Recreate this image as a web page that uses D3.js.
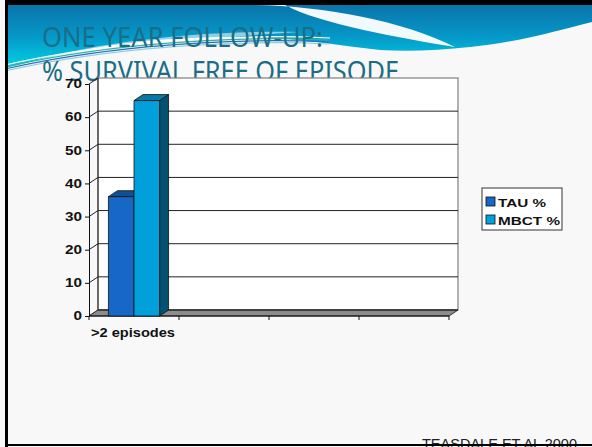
<!DOCTYPE html>
<html><head><meta charset="utf-8">
<script src="https://cdn.jsdelivr.net/npm/d3@7"></script>
<style>html,body{margin:0;padding:0;background:#f8f8f8;overflow:hidden}</style>
</head><body>
<script>
const categories = [">2 episodes", "", "", ""];
const seriesNames = ["TAU %", "MBCT %"];
const tauValues = [36, 0, 0, 0];
const mbctValues = [65, 0, 0, 0];
const yTicks = [0, 10, 20, 30, 40, 50, 60, 70];
const titleLines = ["ONE YEAR FOLLOW-UP:", "% SURVIVAL FREE OF EPISODE"];
const footer = "TEASDALE ET AL 2000";

const W = 592, H = 447;
const svg = d3.select("body").append("svg").attr("width", W).attr("height", H);
const defs = svg.append("defs");
const g1 = defs.append("linearGradient").attr("id","hdr").attr("x1",0).attr("y1",0).attr("x2",0).attr("y2",1);
g1.append("stop").attr("offset","0%").attr("stop-color","#0a74aa");
g1.append("stop").attr("offset","50%").attr("stop-color","#0598c8");
g1.append("stop").attr("offset","100%").attr("stop-color","#00d2e4");

svg.append("rect").attr("width",W).attr("height",H).attr("fill","#f8f8f8");

// header decoration
svg.append("path").attr("fill","url(#hdr)")
  .attr("d","M5,5 H592 V22 C560,30 520,42 470,47 C440,50 410,52 380,50 C340,46 300,38 250,37 C180,36 130,42 100,47 C60,54 30,62 5,68 Z");
svg.append("path").attr("fill","#ffffff").attr("opacity",0.95)
  .attr("d","M245,5 C320,5 400,20 455,47 C400,38 320,24 285,5 Z");
svg.append("path").attr("fill","#ffffff").attr("opacity",0.55)
  .attr("d","M30,62 C90,44 190,30 300,32 C200,38 110,48 30,62 Z");
[["#2fb59a",0],["#2a6fc4",2],["#ffffff",-2],["#8fd0e0",4]].forEach(([c,o])=>{
  svg.append("path").attr("fill","none").attr("stroke",c).attr("stroke-width",1.2)
    .attr("d",`M5,${67+o} C80,${50+o} 200,${34+o} 330,${40+o}`);
});

// title
const tl = svg.append("g").attr("fill","#1b6d86").style("font-family","'Noto Sans', sans-serif").style("font-size","28px");
tl.append("text").attr("x",42).attr("y",47).attr("textLength",281).attr("lengthAdjust","spacingAndGlyphs").text(titleLines[0]);
tl.append("text").attr("x",42).attr("y",81).attr("textLength",357).attr("lengthAdjust","spacingAndGlyphs").text(titleLines[1]);

// chart geometry
const dx = 9, dy = -6;
const y = d3.scaleLinear().domain([0,70]).range([316,84]);
const x0 = d3.scaleBand().domain(d3.range(categories.length)).range([89,449]).paddingInner(0).paddingOuter(0);
const x1 = d3.scaleBand().domain(seriesNames).range([0,x0.bandwidth()]).paddingInner(0).paddingOuter(0.76);
const xL = 89, xR = 449;

// back wall
svg.append("rect").attr("x",xL+dx).attr("y",y(70)+dy).attr("width",xR-xL).attr("height",y(0)-y(70))
  .attr("fill","#ffffff").attr("stroke","#808080").attr("stroke-width",1.2);
// gridlines
const grid = svg.append("g");
yTicks.forEach(v=>{
  if (v>0 && v<70) grid.append("line").attr("x1",xL+dx).attr("x2",xR+dx).attr("y1",y(v)+dy).attr("y2",y(v)+dy)
    .attr("stroke","#222").attr("stroke-width",1);
  grid.append("line").attr("x1",xL).attr("y1",y(v)).attr("x2",xL+dx).attr("y2",y(v)+dy).attr("stroke","#222").attr("stroke-width",1);
});
svg.append("line").attr("x1",xL+dx).attr("x2",xL+dx).attr("y1",y(70)+dy).attr("y2",y(0)+dy).attr("stroke","#222");

// floor
svg.append("path").attr("fill","#8c8c8c").attr("stroke","#333").attr("stroke-width",1)
  .attr("d",`M${xL},${y(0)} L${xR},${y(0)} L${xR+dx},${y(0)+dy} L${xL+dx},${y(0)+dy} Z`);
svg.append("line").attr("x1",xL+dx).attr("x2",xR+dx).attr("y1",y(0)+dy).attr("y2",y(0)+dy).attr("stroke","#333").attr("stroke-width",1.6);

// y axis
const yAxis = d3.axisLeft(y).tickValues(yTicks).tickSize(4).tickPadding(3);
const ya = svg.append("g").attr("transform",`translate(${xL},0)`).call(yAxis);
ya.select(".domain").attr("stroke","#111");
ya.selectAll(".tick line").attr("stroke","#111");
ya.selectAll(".tick text").attr("fill","#111").style("font-family","Arial, 'Liberation Sans', sans-serif")
  .style("font-weight","bold").style("font-size","12px")
  .attr("textLength",17).attr("lengthAdjust","spacingAndGlyphs");
ya.selectAll(".tick text").filter(d=>d===0).attr("textLength",8.5);

// x axis
const xa = svg.append("g").attr("transform",`translate(0,${y(0)})`);
xa.append("line").attr("x1",xL).attr("x2",xR).attr("stroke","#111");
d3.range(categories.length+1).forEach(i=>{
  const xx = i<categories.length ? x0(i) : xR;
  xa.append("line").attr("x1",xx).attr("x2",xx).attr("y1",0).attr("y2",4).attr("stroke","#111");
});
xa.selectAll("text.cat").data(categories).join("text").attr("class","cat")
  .attr("x",(d,i)=>x0(i)+x0.bandwidth()/2-1).attr("y",21).attr("text-anchor","middle")
  .attr("fill","#111").style("font-family","Arial, 'Liberation Sans', sans-serif").style("font-weight","bold").style("font-size","12.5px")
  .each(function(d){ if(d) d3.select(this).attr("textLength",84).attr("lengthAdjust","spacingAndGlyphs"); })
  .text(d=>d);

// bars
const colors = {
  "TAU %": {front:"#1767c6", top:"#0f4f98", side:"#0c3f7a"},
  "MBCT %": {front:"#02a0da", top:"#0679a6", side:"#045170"}
};
const seriesData = [{name:"TAU %", values:tauValues},{name:"MBCT %", values:mbctValues}];
const bars = svg.append("g");
seriesData.forEach(s=>{
  s.values.forEach((v,i)=>{
    if (!v) return;
    const bx = x0(i)+x1(s.name), bw = x1.bandwidth(), top = y(v), bot = y(0);
    const c = colors[s.name];
    const gb = bars.append("g").attr("stroke","#111").attr("stroke-width",0.8).attr("stroke-linejoin","round");
    gb.append("path").attr("fill",c.side).attr("d",`M${bx+bw},${top} L${bx+bw+dx},${top+dy} L${bx+bw+dx},${bot+dy} L${bx+bw},${bot} Z`);
    gb.append("path").attr("fill",c.top).attr("d",`M${bx},${top} L${bx+dx},${top+dy} L${bx+bw+dx},${top+dy} L${bx+bw},${top} Z`);
    gb.append("rect").attr("x",bx).attr("y",top).attr("width",bw).attr("height",bot-top).attr("fill",c.front);
  });
});

// legend
const lg = svg.append("g");
lg.append("rect").attr("x",482).attr("y",188).attr("width",80).attr("height",42).attr("fill","#fff").attr("stroke","#333");
seriesNames.forEach((n,i)=>{
  lg.append("rect").attr("x",486).attr("y",197+i*18).attr("width",9).attr("height",9).attr("fill",colors[n].front).attr("stroke","#111").attr("stroke-width",0.8);
  lg.append("text").attr("x",498).attr("y",206.5+i*18).attr("fill","#111")
    .style("font-family","Arial, 'Liberation Sans', sans-serif").style("font-weight","bold").style("font-size","11.5px")
    .attr("textLength",i===0?48:62).attr("lengthAdjust","spacingAndGlyphs").text(n);
});

// footer
svg.append("text").attr("x",422).attr("y",449).attr("fill","#222")
  .style("font-family","Arial, 'Liberation Sans', sans-serif").style("font-size","14px")
  .attr("textLength",155).attr("lengthAdjust","spacingAndGlyphs").text(footer);

// frame
svg.append("rect").attr("x",0).attr("y",0).attr("width",W).attr("height",5).attr("fill","#000");
svg.append("rect").attr("x",0).attr("y",0).attr("width",5).attr("height",H).attr("fill","#f8f8f8");
svg.append("rect").attr("x",5).attr("y",0).attr("width",3).attr("height",H).attr("fill","#000");
svg.append("rect").attr("x",5).attr("y",444).attr("width",W-5).attr("height",2).attr("fill","#000");
</script>
</body></html>
